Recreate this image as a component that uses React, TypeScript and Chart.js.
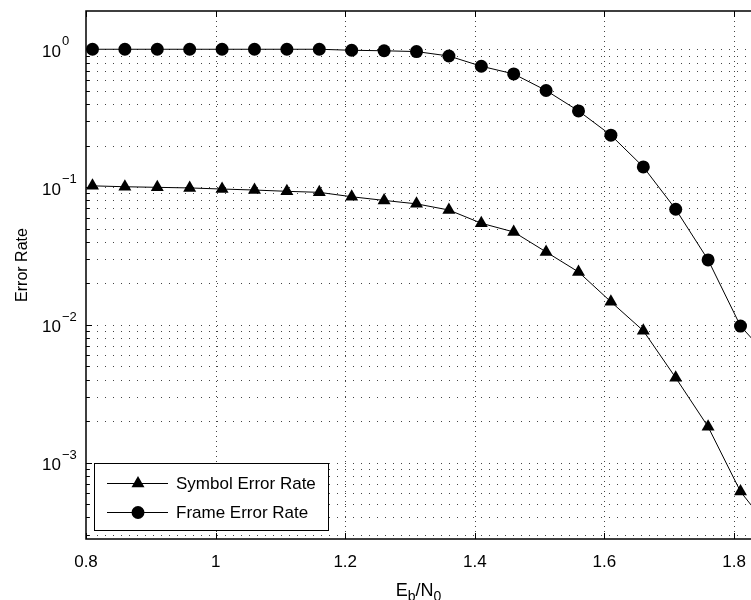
import React, { useEffect, useRef } from 'react';
import { Chart, registerables } from 'chart.js';

Chart.register(...registerables);

const FONT = '"Liberation Sans", Arial, Helvetica, sans-serif';

// Eb/N0 values (last one lies just beyond the visible right edge)
const ebN0 = [0.81, 0.86, 0.91, 0.96, 1.01, 1.06, 1.11, 1.16, 1.21, 1.26, 1.31, 1.36, 1.41, 1.46, 1.51, 1.56, 1.61, 1.66, 1.71, 1.76, 1.81, 1.86];
const symbolErrorRate = [0.102, 0.1005, 0.0995, 0.0985, 0.0967, 0.0951, 0.0931, 0.0915, 0.085, 0.08, 0.0755, 0.0681, 0.0546, 0.0472, 0.0338, 0.0242, 0.0147, 0.00906, 0.00413, 0.00182, 0.000616, 0.00031];
const frameErrorRate = [1.0, 1.0, 1.0, 1.0, 1.0, 1.0, 1.0, 1.0, 0.983, 0.975, 0.962, 0.893, 0.753, 0.662, 0.502, 0.357, 0.238, 0.14, 0.069, 0.0296, 0.0098, 0.0054];

const seriesLabels = ['Symbol Error Rate', 'Frame Error Rate'];
const xTicks = [0.8, 1.0, 1.2, 1.4, 1.6, 1.8];
const xTickLabels = ['0.8', '1', '1.2', '1.4', '1.6', '1.8'];
const yDecades = [-3, -2, -1, 0];
const yDecadeLabels = ['\u22123', '\u22122', '\u22121', '0'];
const yTitle = 'Error Rate';
const xTitleParts = ['E', 'b', '/N', '0'];

const X_MIN = 0.8;
const X_MAX = 1.8262;
const Y_MIN = 2.79e-4;
const Y_MAX = 1.895;

function drawTriangle(ctx: CanvasRenderingContext2D, x: number, y: number, r: number) {
  const hw = r * Math.sin(Math.PI / 3);
  ctx.beginPath();
  ctx.moveTo(x, y - r);
  ctx.lineTo(x + hw, y + r / 2);
  ctx.lineTo(x - hw, y + r / 2);
  ctx.closePath();
  ctx.fill();
}

function drawCircle(ctx: CanvasRenderingContext2D, x: number, y: number, r: number) {
  ctx.beginPath();
  ctx.arc(x, y, r, 0, Math.PI * 2);
  ctx.fill();
}

const matlabPlugin = {
  id: 'matlabAxes',
  beforeDatasetsDraw(chart: any) {
    const { ctx, chartArea: ca, scales } = chart;
    const xs = scales.x;
    const ys = scales.y;
    ctx.save();
    ctx.strokeStyle = '#444';
    ctx.lineWidth = 1;
    // horizontal (log) grid, major and minor
    ctx.setLineDash([1, 7]);
    for (let d = -4; d <= 0; d++) {
      for (let m = 1; m <= 9; m++) {
        const v = m * Math.pow(10, d);
        if (v < Y_MIN || v > Y_MAX) continue;
        const y = Math.round(ys.getPixelForValue(v)) + 0.5;
        ctx.beginPath();
        ctx.moveTo(ca.left + 3, y);
        ctx.lineTo(ca.right, y);
        ctx.stroke();
      }
    }
    // vertical grid
    ctx.setLineDash([1, 4]);
    xTicks.forEach((t) => {
      const x = Math.round(xs.getPixelForValue(t)) + 0.5;
      if (x <= ca.left + 1) return;
      ctx.beginPath();
      ctx.moveTo(x, ca.top);
      ctx.lineTo(x, ca.bottom);
      ctx.stroke();
    });
    ctx.restore();
  },
  afterDatasetsDraw(chart: any) {
    const { ctx, chartArea: ca, scales } = chart;
    const xs = scales.x;
    const ys = scales.y;
    ctx.save();
    ctx.setLineDash([]);
    ctx.strokeStyle = '#000';
    // ticks
    ctx.lineWidth = 1;
    xTicks.forEach((t) => {
      const x = Math.round(xs.getPixelForValue(t)) + 0.5;
      ctx.beginPath();
      ctx.moveTo(x, ca.bottom);
      ctx.lineTo(x, ca.bottom - 6);
      ctx.moveTo(x, ca.top);
      ctx.lineTo(x, ca.top + 6);
      ctx.stroke();
    });
    for (let d = -4; d <= 0; d++) {
      for (let m = 1; m <= 9; m++) {
        const v = m * Math.pow(10, d);
        if (v < Y_MIN || v > Y_MAX) continue;
        const y = Math.round(ys.getPixelForValue(v)) + 0.5;
        ctx.beginPath();
        ctx.moveTo(ca.left, y);
        ctx.lineTo(ca.left + (m === 1 ? 6 : 3.5), y);
        ctx.stroke();
      }
    }
    // axes frame (right side is outside the picture)
    ctx.lineWidth = 1.5;
    ctx.beginPath();
    ctx.moveTo(ca.right + 2, ca.top);
    ctx.lineTo(ca.left, ca.top);
    ctx.lineTo(ca.left, ca.bottom);
    ctx.lineTo(ca.right + 2, ca.bottom);
    ctx.stroke();
    ctx.restore();
  },
  afterDraw(chart: any) {
    const { ctx, chartArea: ca, scales } = chart;
    const xs = scales.x;
    const ys = scales.y;
    ctx.save();
    ctx.fillStyle = '#000';
    // x tick labels
    ctx.font = `17px ${FONT}`;
    ctx.textAlign = 'center';
    ctx.textBaseline = 'alphabetic';
    xTicks.forEach((t, i) => {
      const x = xs.getPixelForValue(t);
      ctx.fillText(xTickLabels[i], x, ca.bottom + 28);
    });
    // y tick labels with superscripts
    ctx.textAlign = 'left';
    yDecades.forEach((d, i) => {
      const y = ys.getPixelForValue(Math.pow(10, d));
      ctx.font = `17px ${FONT}`;
      ctx.fillText('10', 42, y + 7.5);
      const w = ctx.measureText('10').width;
      ctx.font = `13px ${FONT}`;
      ctx.fillText(yDecadeLabels[i], 42 + w + 1, y - 4);
    });
    // y title
    ctx.save();
    ctx.translate(27, 265);
    ctx.rotate(-Math.PI / 2);
    ctx.font = `16px ${FONT}`;
    ctx.textAlign = 'center';
    ctx.fillText(yTitle, 0, 0);
    ctx.restore();
    // x title with subscripts
    const big = `18px ${FONT}`;
    const small = `14px ${FONT}`;
    const parts = xTitleParts.map((p, i) => ({ text: p, sub: i % 2 === 1 }));
    let total = 0;
    const widths = parts.map((p) => {
      ctx.font = p.sub ? small : big;
      const w = ctx.measureText(p.text).width;
      total += w;
      return w;
    });
    let cx = (ca.left + ca.right) / 2 - total / 2;
    const base = 596;
    ctx.textAlign = 'left';
    parts.forEach((p, i) => {
      ctx.font = p.sub ? small : big;
      ctx.fillText(p.text, cx, p.sub ? base + 5 : base);
      cx += widths[i];
    });
    // legend
    const lx = 94, ly = 463, lw = 234, lh = 67;
    ctx.fillStyle = '#fff';
    ctx.fillRect(lx, ly, lw, lh);
    ctx.strokeStyle = '#000';
    ctx.lineWidth = 1;
    ctx.strokeRect(lx + 0.5, ly + 0.5, lw, lh);
    const rows = [483, 512];
    ctx.font = `17px ${FONT}`;
    ctx.textBaseline = 'middle';
    seriesLabels.forEach((label, i) => {
      const y = rows[i] + 0.5;
      ctx.strokeStyle = '#000';
      ctx.lineWidth = 1;
      ctx.beginPath();
      ctx.moveTo(107, y);
      ctx.lineTo(168, y);
      ctx.stroke();
      ctx.fillStyle = '#000';
      if (i === 0) drawTriangle(ctx, 138, y, 7.5);
      else drawCircle(ctx, 138, y, 6.5);
      ctx.fillText(label, 176, y + 1);
    });
    ctx.restore();
  },
};

export default function App() {
  const canvasRef = useRef<HTMLCanvasElement | null>(null);
  useEffect(() => {
    const canvas = canvasRef.current;
    if (!canvas) return;
    const chart = new Chart(canvas, {
      type: 'line',
      data: {
        datasets: [
          {
            label: seriesLabels[0],
            data: ebN0.map((x, i) => ({ x, y: symbolErrorRate[i] })),
            borderColor: '#000',
            borderWidth: 1,
            pointStyle: 'triangle',
            pointRadius: 7.5,
            pointBackgroundColor: '#000',
            pointBorderColor: '#000',
            pointBorderWidth: 0,
            tension: 0,
          },
          {
            label: seriesLabels[1],
            data: ebN0.map((x, i) => ({ x, y: frameErrorRate[i] })),
            borderColor: '#000',
            borderWidth: 1,
            pointStyle: 'circle',
            pointRadius: 6.5,
            pointBackgroundColor: '#000',
            pointBorderColor: '#000',
            pointBorderWidth: 0,
            tension: 0,
          },
        ],
      },
      options: {
        animation: false,
        responsive: false,
        devicePixelRatio: 1,
        layout: { autoPadding: false, padding: { top: 11, left: 0, right: 0, bottom: 0 } },
        plugins: { legend: { display: false }, tooltip: { enabled: false } },
        scales: {
          x: {
            type: 'linear',
            min: X_MIN,
            max: X_MAX,
            grid: { display: false },
            border: { display: false },
            ticks: { display: false },
            afterFit: (s: any) => { s.height = 61; },
          },
          y: {
            type: 'logarithmic',
            min: Y_MIN,
            max: Y_MAX,
            grid: { display: false },
            border: { display: false },
            ticks: { display: false },
            afterFit: (s: any) => { s.width = 86; },
          },
        },
      } as any,
      plugins: [matlabPlugin],
    });
    return () => chart.destroy();
  }, []);
  return (
    <div style={{ position: 'absolute', left: 0, top: 0, width: 751, height: 600, background: '#fff' }}>
      <canvas ref={canvasRef} width={751} height={600} />
    </div>
  );
}
